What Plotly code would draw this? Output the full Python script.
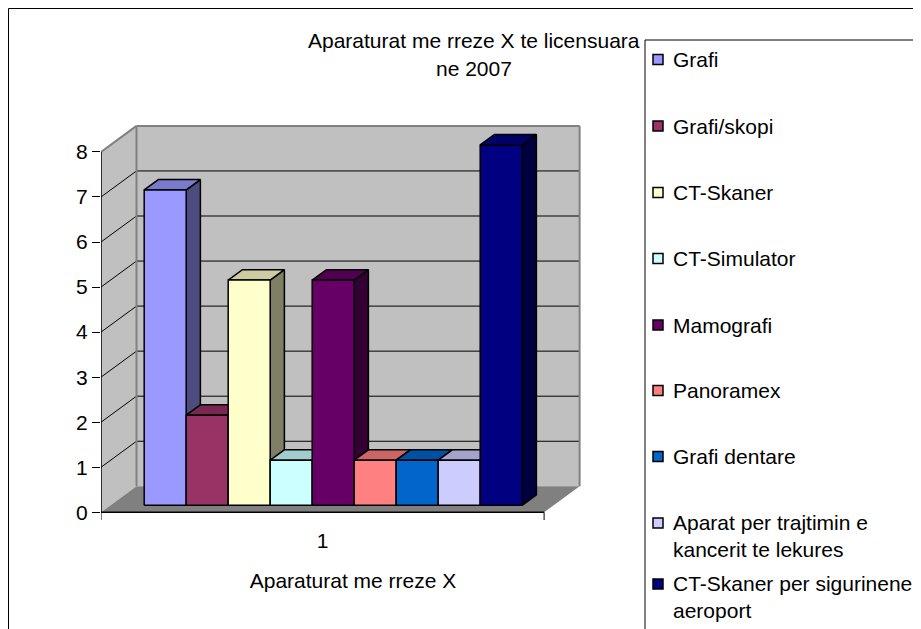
import plotly.graph_objects as go

# ---------------- data ----------------
categories = ["Grafi", "Grafi/skopi", "CT-Skaner", "CT-Simulator", "Mamografi",
              "Panoramex", "Grafi dentare",
              "Aparat per trajtimin e kancerit te lekures",
              "CT-Skaner per sigurinene aeroport"]
legend_labels = ["Grafi", "Grafi/skopi", "CT-Skaner", "CT-Simulator", "Mamografi",
                 "Panoramex", "Grafi dentare",
                 "Aparat per trajtimin e<br>kancerit te lekures",
                 "CT-Skaner per sigurinene<br>aeroport"]
values = [7, 2, 5, 1, 5, 1, 1, 1, 8]
colors = ["#9999FF", "#993366", "#FFFFCC", "#CCFFFF", "#660066",
          "#FF8080", "#0066CC", "#CCCCFF", "#000080"]
x_category_label = "1"
y_tick_values = [0, 1, 2, 3, 4, 5, 6, 7, 8]
title_lines = ["Aparaturat me rreze X te licensuara", "ne 2007"]
x_axis_title = "Aparaturat me rreze X"

# ---------------- layout / geometry (screen pixels) ----------------
WIN_W, WIN_H = 921, 629
OFF = 8                                  # default page margin of the html body
FIG_W, FIG_H = WIN_W - OFF, WIN_H - OFF
PLOT_L, PLOT_R, PLOT_T, PLOT_B = 101, 605, 100, 520
PX_X = 42.0          # pixels per bar width
PX_Y = 45.05         # pixels per value unit
Y0_PIX = 512.3       # pixel row of value 0 on the front axis plane
FONT = "Liberation Sans, Arial, sans-serif"
FS = 21

X_RANGE = [0, (PLOT_R - PLOT_L) / PX_X]
Y_RANGE = [-(PLOT_B - Y0_PIX) / PX_Y, (Y0_PIX - PLOT_T) / PX_Y]

FLOOR_W = 10.55                       # category width in bar units
DX, DY = 35.5 / PX_X, 26.0 / PX_Y     # full depth vector
GAP = 0.8                             # gap before first bar
BAR_F0, BAR_FD = 0.27, 0.40           # bar plane offset and bar depth (fraction of depth)
Y_MAX = max(y_tick_values)

WALL = "#C0C0C0"
FLOOR = "#808080"
EDGE = "#808080"


def shade(hexc, f):
    r, g, b = int(hexc[1:3], 16), int(hexc[3:5], 16), int(hexc[5:7], 16)
    return "#%02X%02X%02X" % (int(r * f), int(g * f), int(b * f))


def px_to_paper_x(px):
    return (px - PLOT_L) / (PLOT_R - PLOT_L)


def px_to_paper_y(py):
    return (PLOT_B - py) / (PLOT_B - PLOT_T)


def poly(xs, ys):
    return "M " + " L ".join(f"{x},{y}" for x, y in zip(xs, ys)) + " Z"


shapes = []
# back wall
shapes.append(dict(type="path", xref="x", yref="y", layer="below",
                   path=poly([DX, DX + FLOOR_W, DX + FLOOR_W, DX],
                             [DY, DY, DY + Y_MAX, DY + Y_MAX]),
                   fillcolor=WALL, line=dict(width=0)))
# side wall
shapes.append(dict(type="path", xref="x", yref="y", layer="below",
                   path=poly([0, DX, DX, 0], [0, DY, DY + Y_MAX, Y_MAX]),
                   fillcolor=WALL, line=dict(width=0)))
# floor
shapes.append(dict(type="path", xref="x", yref="y", layer="below",
                   path=poly([0, FLOOR_W, FLOOR_W + DX, DX], [0, 0, DY, DY]),
                   fillcolor=FLOOR, line=dict(width=0)))
# gridlines
for v in y_tick_values[1:-1]:
    shapes.append(dict(type="line", xref="x", yref="y", layer="below",
                       x0=0, y0=v, x1=DX, y1=v + DY, line=dict(color="black", width=1)))
    shapes.append(dict(type="line", xref="x", yref="y", layer="below",
                       x0=DX, y0=v + DY, x1=DX + FLOOR_W, y1=v + DY,
                       line=dict(color="black", width=1)))
# wall edges (gray)
for (x0, y0, x1, y1) in [(0, Y_MAX, DX, Y_MAX + DY),
                         (DX, Y_MAX + DY, DX + FLOOR_W, Y_MAX + DY),
                         (DX, DY, DX, Y_MAX + DY),
                         (DX + FLOOR_W, DY, DX + FLOOR_W, Y_MAX + DY)]:
    shapes.append(dict(type="line", xref="x", yref="y", layer="below",
                       x0=x0, y0=y0, x1=x1, y1=y1, line=dict(color=EDGE, width=2)))
# axis lines and category boundary ticks
TICK_D = 8 / PX_Y
shapes.append(dict(type="line", xref="x", yref="y", layer="below",
                   x0=0, y0=0, x1=0, y1=Y_MAX, line=dict(color="black", width=1.5)))
shapes.append(dict(type="line", xref="x", yref="y", layer="below",
                   x0=0, y0=0, x1=FLOOR_W, y1=0, line=dict(color="black", width=1.5)))
for xb in [0, FLOOR_W]:
    shapes.append(dict(type="line", xref="x", yref="y", layer="below",
                       x0=xb, y0=0, x1=xb, y1=-TICK_D, line=dict(color="black", width=1)))

# ---------------- bars (3D faces) ----------------
traces = []
ddx, ddy = BAR_FD * DX, BAR_FD * DY
for i, (name, v, c) in enumerate(zip(categories, values, colors)):
    xl = GAP + i + BAR_F0 * DX
    xr = xl + 1
    yb = BAR_F0 * DY
    yt = v + yb
    faces = [
        ([xr, xr, xr + ddx, xr + ddx, xr], [yb, yt, yt + ddy, yb + ddy, yb], shade(c, 0.5)),
        ([xl, xl + ddx, xr + ddx, xr, xl], [yt, yt + ddy, yt + ddy, yt, yt], shade(c, 0.8)),
        ([xl, xl, xr, xr, xl], [yb, yt, yt, yb, yb], c),
    ]
    for fx, fy, fc in faces:
        traces.append(go.Scatter(x=fx, y=fy, mode="lines", fill="toself", fillcolor=fc,
                                 line=dict(color="black", width=1.5), name=name,
                                 showlegend=False, hoverinfo="text",
                                 text=f"{name}: {v}"))

fig = go.Figure(traces)

# ---------------- legend (drawn) ----------------
LEG_L, LEG_T = 645, 40
LEGEND_Y = [59.5, 126, 192.5, 258.5, 325, 390.5, 456.5, 523, 584]
shapes.append(dict(type="rect", xref="paper", yref="paper", layer="above",
                   x0=px_to_paper_x(LEG_L), y0=px_to_paper_y(WIN_H + 20),
                   x1=px_to_paper_x(WIN_W + 20), y1=px_to_paper_y(LEG_T),
                   line=dict(color="black", width=1), fillcolor="rgba(0,0,0,0)"))
annotations = []
LINE_H = 1.3 * FS
for lab, c, ly in zip(legend_labels, colors, LEGEND_Y):
    shapes.append(dict(type="rect", xref="paper", yref="paper", layer="above",
                       x0=px_to_paper_x(653), x1=px_to_paper_x(663),
                       y0=px_to_paper_y(ly + 5), y1=px_to_paper_y(ly - 5),
                       fillcolor=c, line=dict(color="black", width=1.5)))
    multi = "<br>" in lab
    annotations.append(dict(xref="paper", yref="paper", x=px_to_paper_x(671),
                            y=px_to_paper_y(ly - LINE_H / 2 if multi else ly),
                            xanchor="left", yanchor="top" if multi else "middle",
                            align="left", text=lab, showarrow=False,
                            font=dict(family=FONT, size=FS, color="black")))

# outer chart border
shapes.append(dict(type="rect", xref="paper", yref="paper", layer="above",
                   x0=px_to_paper_x(OFF + 0.5), y0=px_to_paper_y(WIN_H + 20),
                   x1=px_to_paper_x(WIN_W + 20), y1=px_to_paper_y(OFF + 0.5),
                   line=dict(color="black", width=1), fillcolor="rgba(0,0,0,0)"))

# title
for txt, ty in zip(title_lines, [40, 68]):
    annotations.append(dict(xref="paper", yref="paper", x=px_to_paper_x(474),
                            y=px_to_paper_y(ty), xanchor="center", yanchor="middle",
                            text=txt, showarrow=False,
                            font=dict(family=FONT, size=FS, color="black")))

fig.update_layout(
    width=FIG_W, height=FIG_H,
    margin=dict(l=PLOT_L - OFF, r=WIN_W - PLOT_R, t=PLOT_T - OFF, b=WIN_H - PLOT_B, pad=0),
    paper_bgcolor="white", plot_bgcolor="white",
    showlegend=False,
    shapes=shapes, annotations=annotations,
    font=dict(family=FONT, size=FS, color="black"),
    xaxis=dict(range=X_RANGE, showgrid=False, zeroline=False, showline=False,
               tickmode="array", tickvals=[FLOOR_W / 2], ticktext=[x_category_label],
               ticks="", ticklabelstandoff=6, automargin=False,
               tickfont=dict(family=FONT, size=FS, color="black"),
               title=dict(text=x_axis_title, standoff=22,
                          font=dict(family=FONT, size=FS, color="black"))),
    yaxis=dict(range=Y_RANGE, showgrid=False, zeroline=False, showline=False,
               tickmode="array", tickvals=y_tick_values,
               ticktext=[str(t) for t in y_tick_values],
               ticks="outside", ticklen=8, tickwidth=1, tickcolor="black",
               automargin=False,
               tickfont=dict(family=FONT, size=FS, color="black")),
)

fig.write_html("out.html")
